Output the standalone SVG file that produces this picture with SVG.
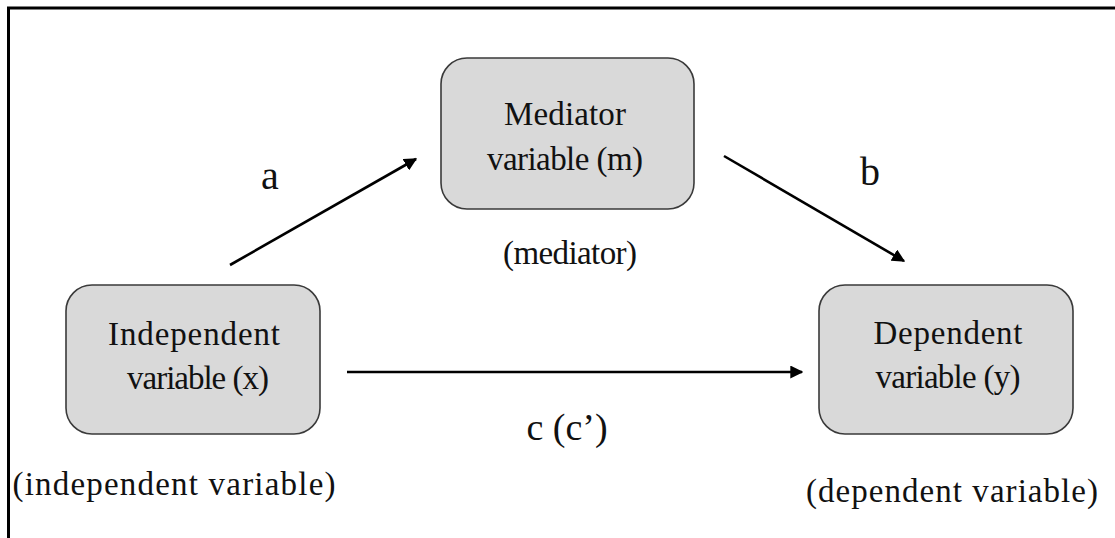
<svg xmlns="http://www.w3.org/2000/svg" width="1115" height="538" viewBox="0 0 1115 538">
  <style>
    .box { fill: #d9d9d9; stroke: #3a3a3a; stroke-width: 1.6; }
    .lbl { font-family: "Liberation Serif", "DejaVu Serif", serif; fill: #111; text-anchor: middle; }
    .inbox { font-size: 33px; }
    .sub { font-size: 33px; }
    .path { font-size: 40px; }
    .edge { stroke: #000; stroke-width: 2.6; fill: none; marker-end: url(#head); }
  </style>
  <defs>
    <marker id="head" viewBox="0 0 10 10" refX="9" refY="5" markerWidth="5" markerHeight="5" orient="auto" markerUnits="strokeWidth">
      <path d="M0,0 L10,5 L0,10 Z" fill="#000"/>
    </marker>
  </defs>
  <rect width="1115" height="538" fill="#fff"/>
  <!-- outer frame: top and left edges -->
  <path d="M8.5,538 V8 H1115" fill="none" stroke="#000" stroke-width="3"/>

  <g id="connectors">
    <line class="edge" x1="230" y1="265" x2="416" y2="159"/>
    <line class="edge" x1="724" y1="156" x2="904" y2="261"/>
    <line class="edge" x1="347" y1="372" x2="802" y2="372"/>
    <text class="lbl path" x="270" y="189">a</text>
    <text class="lbl path" x="870" y="185">b</text>
    <text class="lbl path" x="567" y="440" style="font-size:38px">c (c’)</text>
  </g>

  <g id="independent">
    <rect class="box" x="66" y="285" width="254" height="149" rx="26"/>
    <text class="lbl inbox" x="194" y="345" textLength="172" lengthAdjust="spacing">Independent</text>
    <text class="lbl inbox" x="198" y="389" textLength="142" lengthAdjust="spacing">variable (x)</text>
    <text class="lbl sub" x="174" y="495" textLength="323" lengthAdjust="spacing">(independent variable)</text>
  </g>

  <g id="mediator">
    <rect class="box" x="441" y="58" width="253" height="151" rx="26"/>
    <text class="lbl inbox" x="565" y="125" textLength="122" lengthAdjust="spacing">Mediator</text>
    <text class="lbl inbox" x="565" y="170" textLength="156" lengthAdjust="spacing">variable (m)</text>
    <text class="lbl sub" x="570" y="264" textLength="134" lengthAdjust="spacing">(mediator)</text>
  </g>

  <g id="dependent">
    <rect class="box" x="819" y="285" width="254" height="149" rx="26"/>
    <text class="lbl inbox" x="948" y="344" textLength="149" lengthAdjust="spacing">Dependent</text>
    <text class="lbl inbox" x="948" y="388" textLength="145" lengthAdjust="spacing">variable (y)</text>
    <text class="lbl sub" x="952" y="502" textLength="292" lengthAdjust="spacing">(dependent variable)</text>
  </g>
</svg>
